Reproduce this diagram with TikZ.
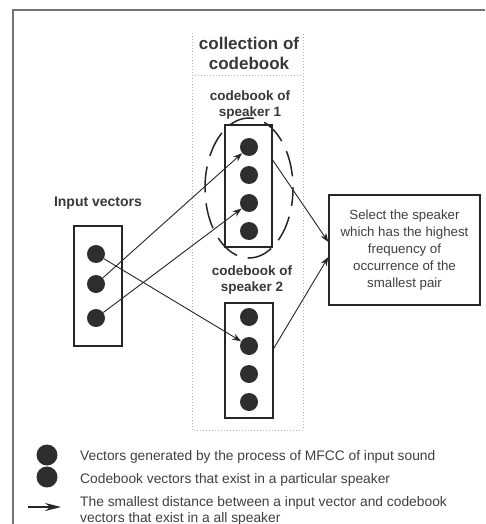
\documentclass[tikz,border=0pt]{standalone}
\usepackage{fontspec}
\setmainfont{Liberation Sans}
\usetikzlibrary{arrows.meta,calc}
\begin{document}
\begin{tikzpicture}[x=1pt,y=-1pt,
  dot/.style={circle,fill=black!82,inner sep=0pt,minimum size=18pt},
  legdot/.style={circle,fill=black!82,inner sep=0pt,minimum size=21pt},
  vbox/.style={draw=black!85,line width=1.3pt,inner sep=0pt},
  arr/.style={draw=black!85,line width=0.9pt,-{Stealth[length=9pt,width=6.5pt]}},
  lbl/.style={font=\bfseries\fontsize{13.5}{16}\selectfont,text=black!78,align=center},
  legtext/.style={font=\fontsize{13.8}{16}\selectfont,text=black!75,anchor=base west,inner sep=0pt}
]
\useasboundingbox (0,0) rectangle (485,524);
\fill[white] (0,0) rectangle (485,524);
% outer frame (partly visible)
\draw[black!55,line width=1.2pt] (13,524) -- (13,10) -- (485,10);
% dotted collection region
\draw[black!30,dotted,line width=1pt] (192,33) -- (192,430) -- (303,430) -- (303,33);
\draw[black!30,dotted,line width=1pt] (192,76) -- (303,76);
\node[font=\bfseries\fontsize{17}{20}\selectfont,text=black!78,align=center] (title) at (249,53) {collection of\\codebook};

% codebook of speaker 1
\node[lbl] (lab1) at (250,105) {codebook of\\speaker 1};
\node[vbox,minimum width=47pt,minimum height=122pt] (cb1) at (248.5,186) {};
\node[dot] (a1) at (249,147) {};
\node[dot] (a2) at (249,175) {};
\node[dot] (a3) at (249,203) {};
\node[dot] (a4) at (249,231) {};
\draw[black!85,line width=1.5pt,dash pattern=on 26pt off 11pt,dash phase=8pt] (249,188) ellipse [x radius=44, y radius=70];

% codebook of speaker 2
\node[lbl] (lab2) at (252,280) {codebook of\\speaker 2};
\node[vbox,minimum width=48pt,minimum height=115pt] (cb2) at (249,360.5) {};
\node[dot] (b1) at (249,317) {};
\node[dot] (b2) at (249,346) {};
\node[dot] (b3) at (249,374) {};
\node[dot] (b4) at (249,402) {};

% input vectors
\node[lbl,font=\bfseries\fontsize{14}{16}\selectfont] (lab0) at (98,203) {Input vectors};
\node[vbox,minimum width=48pt,minimum height=120pt] (inb) at (98,286) {};
\node[dot] (i1) at (96,254) {};
\node[dot] (i2) at (96,284) {};
\node[dot] (i3) at (96,318) {};

% selection box
\node[vbox,minimum width=151pt,minimum height=110pt,font=\fontsize{13.3}{17.2}\selectfont,text=black!75,align=center] (sel) at (404.5,250)
  {Select the speaker\\which has the highest\\frequency of\\occurrence of the\\smallest pair};

% connectors
\draw[arr] (i2) -- (a1);
\draw[arr] (i3) -- (a3);
\draw[arr] (i1) -- (b2);
\draw[arr] ([yshift=26pt]cb1.east) -- ([yshift=8pt]sel.west);
\draw[arr] ([yshift=12pt]cb2.east) -- ([yshift=-7pt]sel.west);

% legend
\node[legdot] (l1) at (47,455) {};
\node[legdot] (l2) at (47,477) {};
\coordinate (la) at (28,507);
\coordinate (lb) at (61,507);
\draw[draw=black!85,line width=1.3pt,-{Stealth[length=16pt,width=8pt]}] (la) -- (lb);
\node[legtext] (t1) at (80,460.5) {Vectors generated by the process of MFCC of input sound};
\node[legtext] (t2) at (80,483) {Codebook vectors that exist in a particular speaker};
\node[legtext] (t3) at (80,506) {The smallest distance between a input vector and codebook};
\node[legtext] (t4) at (80,522) {vectors that exist in a all speaker};
\end{tikzpicture}
\end{document}
